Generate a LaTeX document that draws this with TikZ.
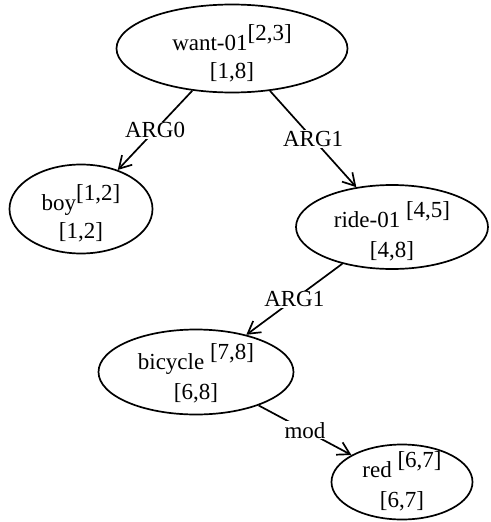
\documentclass[tikz,border=0pt]{standalone}
\usepackage{fontspec}
\setmainfont{Liberation Serif}
\usetikzlibrary{shapes.geometric,arrows.meta}
\newcommand\upidx[1]{\raisebox{10pt}{#1}}
\begin{document}
\begin{tikzpicture}[x=1pt,y=-1pt,
  ell/.style={draw, ellipse, line width=1.7pt, inner sep=0pt},
  txt/.style={inner sep=0pt, anchor=base, font=\fontsize{23}{29}\selectfont},
  elab/.style={fill=white, inner sep=1pt, font=\fontsize{23}{29}\selectfont},
  edge/.style={line width=1.7pt, -{Straight Barb[length=12pt,width=14pt,line width=1.7pt]}}]
\useasboundingbox (0,0) rectangle (490,522);
% ellipses
\node[ell, minimum width=231pt, minimum height=88pt] (want) at (232,48.5) {};
\node[ell, minimum width=143pt, minimum height=89pt] (boy) at (81,209) {};
\node[ell, minimum width=192pt, minimum height=84pt] (ride) at (392,227) {};
\node[ell, minimum width=195pt, minimum height=85pt] (bicycle) at (196,372) {};
\node[ell, minimum width=141pt, minimum height=75pt] (red) at (402,482) {};
% texts
\node[txt] (wantA) at (232,50) {want-01\upidx{[2,3]}};
\node[txt] (wantB) at (232,78) {[1,8]};
\node[txt] (boyA) at (81,210) {boy\upidx{[1,2]}};
\node[txt] (boyB) at (81,238) {[1,2]};
\node[txt] (rideA) at (392,227) {ride-01 \upidx{[4,5]}};
\node[txt] (rideB) at (392,257) {[4,8]};
\node[txt] (bicycleA) at (196,369) {bicycle \upidx{[7,8]}};
\node[txt] (bicycleB) at (196,399) {[6,8]};
\node[txt] (redA) at (402,477) {red \upidx{[6,7]}};
\node[txt] (redB) at (402,507) {[6,7]};
% edges
\draw[edge] (want) -- node[elab] (l1) {ARG0} (boy);
\draw[edge] (want) -- node[elab] (l2) {ARG1} (ride);
\draw[edge] (ride) -- node[elab] (l3) {ARG1} (bicycle);
\draw[edge] (bicycle) -- node[elab] (l4) {mod} (red);
\end{tikzpicture}
\end{document}
